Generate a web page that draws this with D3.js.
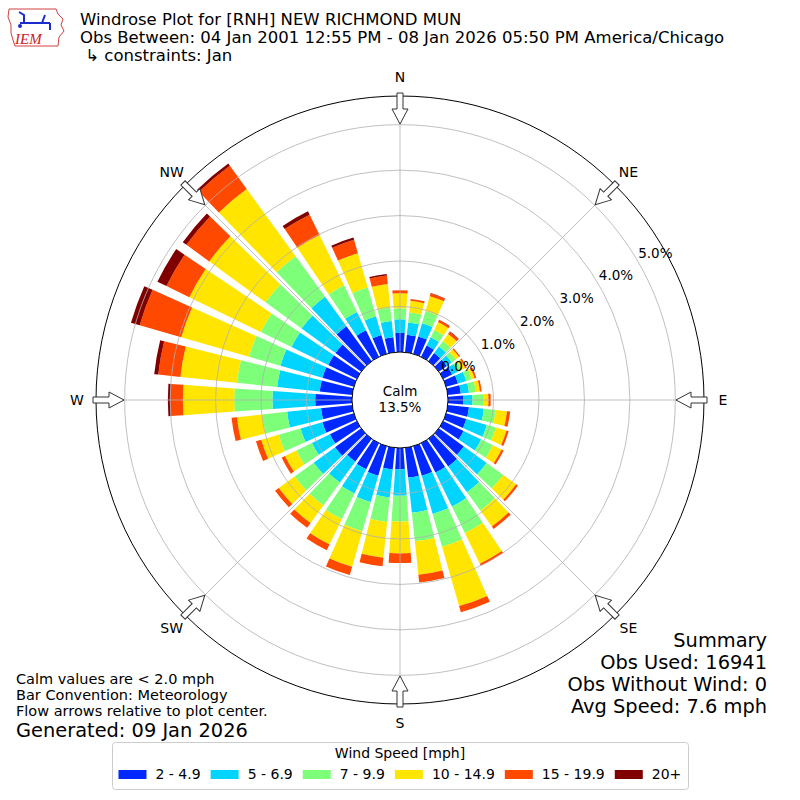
<!DOCTYPE html>
<html>
<head>
<meta charset="utf-8">
<script src="https://cdn.jsdelivr.net/npm/d3@7"></script>
<style>
  body { margin: 0; background: #fff; }
  svg { font-family: "DejaVu Sans", sans-serif; }
</style>
</head>
<body>
<div id="viz"></div>
<script>
// Wind directions (deg, meteorological) and speed classes
const directions = d3.range(0, 360, 10);
const speedLabels = ["2 - 4.9", "5 - 6.9", "7 - 9.9", "10 - 14.9", "15 - 19.9", "20+"];
const speedColors = ["#0028ff", "#00d4ff", "#7dff7a", "#ffe500", "#ff4800", "#800000"];

// Percent of obs per direction, one array per speed class (0, 10, ... 350 deg)
const spd2 = [0.42,0.39,0.40,0.28,0.22,0.22,0.22,0.27,0.29,0.34,0.47,0.46,0.50,0.68,0.75,0.72,0.68,0.66,
              0.47,0.48,0.68,0.64,0.62,0.71,0.66,0.72,0.69,0.81,0.72,0.72,0.70,0.70,0.95,0.65,0.43,0.33];
const spd5 = [0.30,0.27,0.30,0.20,0.18,0.13,0.14,0.19,0.18,0.20,0.33,0.47,0.43,0.62,0.70,0.83,0.87,0.78,
              0.58,0.62,0.60,0.59,0.57,0.58,0.44,0.50,0.75,0.94,0.94,0.96,0.90,0.92,0.80,0.45,0.43,0.36];
const spd7 = [0.24,0.22,0.28,0.18,0.15,0.11,0.10,0.12,0.15,0.24,0.26,0.21,0.29,0.45,0.50,0.65,0.75,0.63,
              0.57,0.54,0.67,0.63,0.62,0.52,0.38,0.50,0.55,0.84,0.89,0.72,0.75,0.98,1.10,0.65,0.66,0.30];
const spd10 = [0.33,0.26,0.34,0.19,0.19,0.09,0.08,0.07,0.09,0.11,0.25,0.24,0.21,0.35,0.43,0.75,1.36,0.74,
               0.70,0.79,0.81,0.62,0.48,0.43,0.28,0.40,0.56,1.13,1.25,1.55,1.75,1.53,1.83,1.23,0.78,0.52];
const spd15 = [0.07,0.04,0.06,0.05,0.06,0.03,0.04,0.04,0.04,0.05,0.07,0.05,0.05,0.05,0.07,0.05,0.14,0.17,
               0.21,0.19,0.19,0.14,0.13,0.10,0.08,0.12,0.12,0.28,0.49,0.95,0.56,0.62,0.63,0.50,0.31,0.19];
const spd20 = [0.00,0.00,0.01,0.01,0.01,0.00,0.00,0.00,0.00,0.00,0.00,0.00,0.00,0.00,0.00,0.00,0.00,0.00,
               0.00,0.00,0.00,0.00,0.00,0.00,0.00,0.00,0.00,0.05,0.09,0.20,0.22,0.10,0.06,0.08,0.05,0.03];

const radialTicks = [0, 1, 2, 3, 4, 5];
const compass = ["N", "NE", "E", "SE", "S", "SW", "W", "NW"];
const calmPct = 13.5;

const titleLines = [
  "Windrose Plot for [RNH] NEW RICHMOND MUN",
  "Obs Between: 04 Jan 2001 12:55 PM - 08 Jan 2026 05:50 PM America/Chicago",
  " \u21b3 constraints: Jan"
];
const summaryLines = ["Summary", "Obs Used: 16941", "Obs Without Wind: 0", "Avg Speed: 7.6 mph"];
const noteLines = ["Calm values are < 2.0 mph", "Bar Convention: Meteorology", "Flow arrows relative to plot center."];

const width = 800, height = 800;
const cx = 400, cy = 400;
const rCalm = 48, rOuter = 304;

const svg = d3.select("#viz").append("svg")
  .attr("width", width)
  .attr("height", height);

// radial scale: percent -> pixels, bars start at the calm circle
const r = d3.scaleLinear().domain([0, 5.63]).range([rCalm, rOuter]);
const rad = d => d * Math.PI / 180;

const keys = ["s2", "s5", "s7", "s10", "s15", "s20"];
const series = [spd2, spd5, spd7, spd10, spd15, spd20];
const rows = directions.map((d, i) => {
  const o = { dir: d };
  keys.forEach((k, j) => o[k] = series[j][i]);
  return o;
});
const stacked = d3.stack().keys(keys)(rows);

const g = svg.append("g").attr("transform", `translate(${cx},${cy})`);

// bars
const halfW = 4; // deg
const arc = d3.arc();
g.append("g").selectAll("g")
  .data(stacked)
  .join("g")
  .attr("fill", (d, i) => speedColors[i])
  .selectAll("path")
  .data(d => d.filter(p => p[1] - p[0] > 0))
  .join("path")
  .attr("d", p => arc({
    innerRadius: r(p[0]),
    outerRadius: r(p[1]),
    startAngle: rad(p.data.dir - halfW),
    endAngle: rad(p.data.dir + halfW)
  }));

// grid circles
const grid = g.append("g").attr("fill", "none").attr("stroke", "#b0b0b0").attr("stroke-width", 0.8);
grid.selectAll("circle")
  .data(radialTicks.slice(1))
  .join("circle")
  .attr("r", d => r(d));

// radial lines every 45 deg
grid.selectAll("line")
  .data(d3.range(0, 360, 45))
  .join("line")
  .attr("x1", d => rCalm * Math.sin(rad(d)))
  .attr("y1", d => -rCalm * Math.cos(rad(d)))
  .attr("x2", d => rOuter * Math.sin(rad(d)))
  .attr("y2", d => -rOuter * Math.cos(rad(d)));

// outer frame
g.append("circle").attr("r", rOuter).attr("fill", "none").attr("stroke", "#000").attr("stroke-width", 1);

// calm circle
g.append("circle").attr("r", rCalm).attr("fill", "#fff").attr("stroke", "#000").attr("stroke-width", 1);
g.append("text").attr("text-anchor", "middle").attr("y", -4).attr("font-size", 13.5)
  .text("Calm");
g.append("text").attr("text-anchor", "middle").attr("y", 12).attr("font-size", 13.5)
  .text(calmPct.toFixed(1) + "%");

// radial tick labels
g.append("g").selectAll("text")
  .data(radialTicks)
  .join("text")
  .attr("x", d => (r(d) + 19.5) * Math.sin(rad(60)))
  .attr("y", d => -(r(d) + 19.5) * Math.cos(rad(60)))
  .attr("text-anchor", "middle")
  .attr("dominant-baseline", "central")
  .attr("font-size", 13.5)
  .text(d => d.toFixed(1) + "%");

// compass labels
g.append("g").selectAll("text")
  .data(compass)
  .join("text")
  .attr("x", (d, i) => 323 * Math.sin(rad(i * 45)))
  .attr("y", (d, i) => -323 * Math.cos(rad(i * 45)))
  .attr("text-anchor", "middle")
  .attr("dominant-baseline", "central")
  .attr("font-size", 14)
  .text(d => d);

// hollow flow arrows pointing inward
const arrowPath = "M-3,-307 L3,-307 L3,-291 L8,-291 L0,-276 L-8,-291 L-3,-291 Z";
g.append("g").selectAll("path")
  .data(d3.range(0, 360, 45))
  .join("path")
  .attr("d", arrowPath)
  .attr("transform", d => `rotate(${d})`)
  .attr("fill", "#fff")
  .attr("stroke", "#333")
  .attr("stroke-width", 1);

// title
svg.append("g").selectAll("text")
  .data(titleLines)
  .join("text")
  .attr("x", 80)
  .attr("y", (d, i) => 25 + i * 18)
  .attr("font-size", 16.5)
  .style("white-space", "pre")
  .text(d => d);

// IEM logo (simplified)
const logo = svg.append("g");
logo.append("path")
  .attr("d", "M9,9 L56,9 L58,14 L63,19 L61,25 L64,31 L59,37 L58,46 L15,46 L13,40 L11,33 L11,25 L8,17 Z")
  .attr("fill", "none").attr("stroke", "#d04040").attr("stroke-width", 1);
logo.append("path")
  .attr("d", "M20,23 L50,23 M24,23 L24,15 L19,12 M42,23 L45,15 M50,23 L50,30")
  .attr("fill", "none").attr("stroke", "#1a2ccc").attr("stroke-width", 2);
logo.append("circle").attr("cx", 20).attr("cy", 26).attr("r", 2).attr("fill", "#1a2ccc");
logo.append("text").attr("x", 15).attr("y", 44)
  .attr("font-family", "Liberation Serif, serif").attr("font-style", "italic")
  .attr("font-size", 15).attr("fill", "#d02020").text("IEM");

// summary (right)
svg.append("g").selectAll("text")
  .data(summaryLines)
  .join("text")
  .attr("x", 767)
  .attr("y", (d, i) => 647 + i * 22)
  .attr("text-anchor", "end")
  .attr("font-size", 19.4)
  .text(d => d);

// notes (left)
svg.append("g").selectAll("text")
  .data(noteLines)
  .join("text")
  .attr("x", 16)
  .attr("y", (d, i) => 684 + i * 16)
  .attr("font-size", 14.5)
  .text(d => d);
svg.append("text").attr("x", 16).attr("y", 737).attr("font-size", 19.4).text("Generated: 09 Jan 2026");

// legend
const legend = svg.append("g");
legend.append("rect")
  .attr("x", 112.5).attr("y", 742.5).attr("width", 576).attr("height", 47)
  .attr("rx", 3).attr("fill", "#fff").attr("stroke", "#cccccc");
legend.append("text").attr("x", 400).attr("y", 758).attr("text-anchor", "middle")
  .attr("font-size", 14).text("Wind Speed [mph]");
let lx = 118.5;
speedLabels.forEach((lab, i) => {
  legend.append("rect").attr("x", lx).attr("y", 770).attr("width", 28).attr("height", 9)
    .attr("fill", speedColors[i]);
  const t = legend.append("text").attr("x", lx + 37).attr("y", 779)
    .attr("font-size", 14).text(lab);
  lx += 37 + t.node().getComputedTextLength() + 10;
});
</script>
</body>
</html>
